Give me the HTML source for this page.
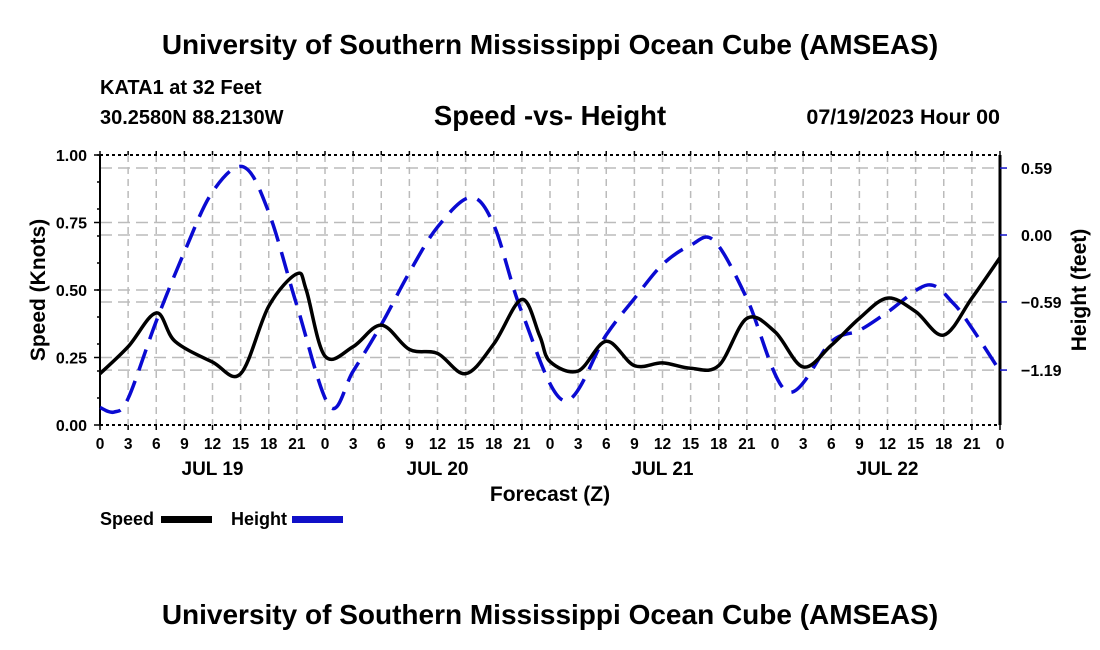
<!DOCTYPE html>
<html><head><meta charset="utf-8"><style>
body{margin:0;background:#fff;}
svg{display:block;font-family:"Liberation Sans",sans-serif;font-weight:bold;}
</style></head><body>
<svg id="chart" width="1100" height="650" viewBox="0 0 1100 650">
<text x="550" y="54" text-anchor="middle" font-size="28">University of Southern Mississippi Ocean Cube (AMSEAS)</text>
<text x="100" y="94" font-size="20">KATA1 at 32 Feet</text>
<text x="100" y="124" font-size="20">30.2580N  88.2130W</text>
<text x="550" y="125" text-anchor="middle" font-size="27.5">Speed -vs- Height</text>
<text x="1000" y="124" text-anchor="end" font-size="21.5">07/19/2023 Hour 00</text>
<g id="grid"></g>
<g id="axes"></g>
<g id="series"></g>
<text x="550" y="501" text-anchor="middle" font-size="21">Forecast (Z)</text>
<text transform="translate(45,290) rotate(-90)" text-anchor="middle" font-size="21">Speed (Knots)</text>
<text transform="translate(1086,290) rotate(-90)" text-anchor="middle" font-size="21">Height (feet)</text>
<g>
<text x="100" y="525" font-size="18">Speed</text>
<rect x="161" y="516" width="51" height="7" fill="#000"/>
<text x="231" y="525" font-size="18">Height</text>
<rect x="292" y="516" width="51" height="7" fill="#1010c8"/>
</g>
<text x="550" y="624" text-anchor="middle" font-size="28">University of Southern Mississippi Ocean Cube (AMSEAS)</text>
</svg>
<script>
const speedHours=[0,3,6,8,12,15,18,21,22,24,27,30,33,36,39,42,45,46.9,48,51,54,57,60,63,66,69,72,75,78,81,84,87,90,93,96];
const speedValues=[0.19,0.29,0.415,0.31,0.233,0.19,0.44,0.56,0.5,0.255,0.29,0.37,0.28,0.265,0.19,0.3,0.465,0.33,0.235,0.2,0.31,0.22,0.23,0.21,0.22,0.395,0.345,0.215,0.295,0.395,0.47,0.42,0.333,0.47,0.62];
const heightHours=[0,1.5,3,6,9,12,15.3,18,21,24.5,27,30,33,36,39.5,42,45,49.5,54,57,60,63,65.5,69,73.3,78,81,84,88.3,91,93,96];
const heightValues=[-1.52,-1.56,-1.44,-0.76,-0.15,0.38,0.6,0.2,-0.62,-1.51,-1.2,-0.79,-0.33,0.07,0.33,0.09,-0.68,-1.46,-0.88,-0.56,-0.26,-0.09,-0.05,-0.56,-1.38,-0.94,-0.84,-0.68,-0.44,-0.6,-0.82,-1.2];
const speedTicks=[0,0.25,0.5,0.75,1.0];
const speedTickLabels=["0.00","0.25","0.50","0.75","1.00"];
const heightTicks=[0.59,0,-0.59,-1.19];
const heightTickLabels=["0.59","0.00","\u22120.59","\u22121.19"];
const hourLabels=["0","3","6","9","12","15","18","21"];
const dayLabels=["JUL 19","JUL 20","JUL 21","JUL 22"];

const X0=100,X1=1000,Y0=425,Y1=155;
const xs=h=>X0+(h/96)*(X1-X0);
const ys=v=>Y0-v*(Y0-Y1);
const yh=v=>235-v*113.5;
const NS="http://www.w3.org/2000/svg";
function mk(tag,attrs,parent){const e=document.createElementNS(NS,tag);for(const k in attrs)e.setAttribute(k,attrs[k]);parent.appendChild(e);return e;}
const grid=document.getElementById('grid'),axes=document.getElementById('axes'),series=document.getElementById('series');
for(let h=3;h<96;h+=3){const l=mk('line',{x1:xs(h),x2:xs(h),y1:Y1,y2:Y0,stroke:'#bbb','stroke-width':1.5,'stroke-dasharray':'7,5'},grid);

}
[0.25,0.5,0.75].forEach(v=>{const l=mk('line',{x1:X0,x2:X1,y1:ys(v),y2:ys(v),stroke:'#bbb','stroke-width':1.5,'stroke-dasharray':'12,6'},grid);

});
heightTicks.forEach(v=>{const l=mk('line',{x1:X0,x2:X1,y1:yh(v),y2:yh(v),stroke:'#bbb','stroke-width':1.5,'stroke-dasharray':'12,6'},grid);

});
mk('line',{x1:X0,x2:X0,y1:Y1,y2:Y0,stroke:'#000','stroke-width':2},axes);
mk('line',{x1:X1,x2:X1,y1:Y1,y2:Y0,stroke:'#000','stroke-width':3},axes);
mk('line',{x1:X0,x2:X1,y1:Y1,y2:Y1,stroke:'#000','stroke-width':2,'stroke-dasharray':'3,3'},axes);
mk('line',{x1:X0,x2:X1,y1:Y0,y2:Y0,stroke:'#000','stroke-width':2,'stroke-dasharray':'3,3'},axes);
for(let v=0.1;v<1;v+=0.1){mk('line',{x1:X0-3,x2:X0,y1:ys(v),y2:ys(v),stroke:'#000','stroke-width':1.5},axes);}
for(let h=0;h<=96;h+=3){
mk('line',{x1:xs(h),x2:xs(h),y1:Y0,y2:Y0+5,stroke:'#000','stroke-width':1.5},axes);
mk('line',{x1:xs(h),x2:xs(h),y1:Y1,y2:Y1-4,stroke:'#000','stroke-width':1.5},axes);
const t=mk('text',{x:xs(h),y:449,'text-anchor':'middle','font-size':15.5},axes);
t.textContent=hourLabels[(h/3)%8];

}
dayLabels.forEach((d,i)=>{const t=mk('text',{x:xs(i*24+12),y:475,'text-anchor':'middle','font-size':19},axes);t.textContent=d;

});
speedTicks.forEach((v,i)=>{mk('line',{x1:X0-6,x2:X0,y1:ys(v),y2:ys(v),stroke:'#000','stroke-width':1.5},axes);
const t=mk('text',{x:87,y:ys(v)+6,'text-anchor':'end','font-size':16},axes);t.textContent=speedTickLabels[i];

});
heightTicks.forEach((v,i)=>{mk('line',{x1:X1,x2:X1+7,y1:yh(v),y2:yh(v),stroke:'#1010c8','stroke-width':1.5},axes);
const t=mk('text',{x:1021,y:yh(v)+6,'font-size':16},axes);t.textContent=heightTickLabels[i];

});
function smooth(pts){let d=`M${pts[0][0]},${pts[0][1]}`;
for(let i=0;i<pts.length-1;i++){const p0=pts[Math.max(0,i-1)],p1=pts[i],p2=pts[i+1],p3=pts[Math.min(pts.length-1,i+2)];
d+=` C${p1[0]+(p2[0]-p0[0])/6},${p1[1]+(p2[1]-p0[1])/6} ${p2[0]-(p3[0]-p1[0])/6},${p2[1]-(p3[1]-p1[1])/6} ${p2[0]},${p2[1]}`;}return d;}
const hp=mk('path',{d:smooth(heightHours.map((h,i)=>[xs(h),yh(heightValues[i])])),fill:'none',stroke:'#0a0ad2','stroke-width':3.5,'stroke-dasharray':'22,11'},series);


const sp=mk('path',{d:smooth(speedHours.map((h,i)=>[xs(h),ys(speedValues[i])])),fill:'none',stroke:'#000','stroke-width':3.5},series);


</script>
</body></html>
